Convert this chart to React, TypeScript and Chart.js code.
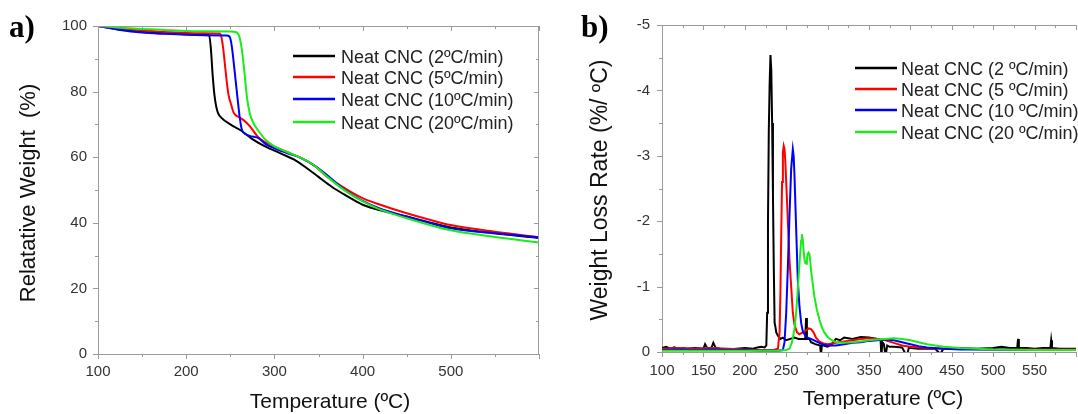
import React, { useEffect, useRef } from 'react';
import { Chart, registerables } from 'chart.js';

Chart.register(...registerables);

// ---------- Data ----------
const seriesColors = ['#000000', '#ff0000', '#0000ff', '#1aec1a'];
const legendA = ['Neat CNC (2ºC/min)', 'Neat CNC (5ºC/min)', 'Neat CNC (10ºC/min)', 'Neat CNC (20ºC/min)'];
const legendB = ['Neat CNC (2 ºC/min)', 'Neat CNC (5 ºC/min)', 'Neat CNC (10 ºC/min)', 'Neat CNC (20 ºC/min)'];

// Panel a) TGA: temperature (ºC) and relative weight (%)
const tgaT2 = [100, 125, 150, 175, 200, 215, 226, 228, 230, 232, 234, 236, 240, 250, 263, 275, 290, 300, 310, 322, 335, 350, 365, 380, 400, 420, 450, 475, 500, 550, 600];
const tgaW2 = [100, 98.9, 98.2, 97.8, 97.5, 97.3, 97.2, 93, 85, 79, 75.5, 73.5, 72, 70, 68, 65.5, 63.2, 62, 60.8, 59.3, 57, 54, 51, 48.5, 45.5, 43.8, 41.9, 40.2, 38.6, 36.8, 35.4];
const tgaT5 = [100, 125, 150, 175, 200, 220, 238, 240, 242, 244, 246, 248, 251, 254, 260, 265, 272, 282, 290, 300, 315, 330, 345, 360, 380, 400, 420, 450, 475, 500, 550, 600];
const tgaW5 = [100, 99.2, 98.6, 98.2, 97.9, 97.8, 97.7, 96.5, 93, 88, 83, 79, 76, 73.5, 72.2, 71.3, 69.5, 66, 64.5, 63.2, 61.5, 59.8, 57.5, 54, 50.5, 47.5, 45.5, 42.9, 41, 39.3, 37.3, 35.6];
const tgaT10 = [100, 125, 150, 175, 200, 220, 246, 249, 251, 253, 255, 257, 259, 261, 263, 265, 272, 282, 290, 300, 315, 330, 345, 360, 380, 400, 420, 450, 475, 500, 550, 600];
const tgaW10 = [100, 98.8, 98.0, 97.6, 97.3, 97.2, 97.1, 96.8, 95, 91, 86, 81, 76, 71.5, 68.5, 67.5, 66.5, 65.8, 64, 62.7, 61.2, 59.8, 57.5, 54.5, 50, 46.7, 44.3, 41.9, 40, 38.3, 36.8, 35.6];
const tgaT20 = [100, 125, 150, 175, 200, 225, 250, 257, 260, 263, 266, 269, 272, 276, 282, 290, 300, 315, 330, 345, 360, 380, 400, 420, 450, 475, 500, 550, 600];
const tgaW20 = [100, 99.5, 99.1, 98.8, 98.5, 98.4, 98.3, 98.1, 97, 93, 86, 78, 73.5, 70.5, 68, 65.3, 63.3, 61.5, 59.8, 57.5, 54, 49.8, 46.5, 44, 41.4, 39.4, 37.7, 35.7, 34];

// Panel b) DTG: temperature (ºC) and weight loss rate (%/ºC)
const dtgT2 = [100, 105, 110, 115, 120, 125, 130, 140, 150, 152, 155, 160, 162, 165, 170, 180, 190, 200, 210, 215, 220, 224, 226, 227, 228, 229, 230, 231, 232, 233, 234, 235, 236, 237, 238, 240, 243, 246, 250, 255, 260, 265, 270, 273, 274, 275, 278, 280, 285, 291, 292, 293, 295, 300, 305, 310, 315, 320, 330, 340, 350, 360, 364, 365, 366, 368, 370, 372, 375, 380, 390, 395, 396, 398, 400, 410, 420, 430, 436, 440, 450, 460, 480, 500, 510, 520, 529, 530, 531, 540, 550, 560, 569, 570, 571, 580, 590, 600];
const dtgV2 = [-0.06, -0.08, -0.05, -0.07, -0.04, -0.06, -0.05, -0.06, -0.05, -0.12, -0.05, -0.07, -0.14, -0.06, -0.05, -0.04, -0.05, -0.06, -0.05, -0.07, -0.08, -0.07, -0.1, -0.6, -2.0, -3.4, -4.1, -4.54, -4.3, -3.5, -2.4, -1.3, -0.45, -0.38, -0.3, -0.25, -0.2, -0.22, -0.18, -0.2, -0.22, -0.2, -0.2, -0.2, -0.52, -0.2, -0.2, -0.15, -0.12, -0.1, 0.06, -0.1, -0.1, -0.08, -0.12, -0.2, -0.18, -0.22, -0.2, -0.23, -0.22, -0.2, -0.18, 0.08, -0.15, -0.12, 0.06, -0.1, -0.08, -0.08, -0.07, 0.05, 0.05, -0.06, -0.06, -0.05, -0.05, -0.05, 0.03, -0.05, -0.05, -0.06, -0.05, -0.06, -0.08, -0.06, -0.06, -0.2, -0.06, -0.06, -0.05, -0.06, -0.06, -0.18, -0.06, -0.05, -0.05, -0.05];
const dtgT5 = [100, 120, 140, 160, 180, 200, 220, 235, 240, 242, 243, 244, 245, 246, 247, 248, 249, 250, 252, 254, 256, 258, 260, 263, 266, 270, 274, 277, 280, 283, 286, 290, 295, 300, 310, 320, 330, 340, 350, 360, 370, 380, 390, 400, 410, 420, 440, 460, 500, 550, 600];
const dtgV5 = [-0.05, -0.06, -0.05, -0.06, -0.05, -0.04, -0.03, -0.03, -0.05, -0.3, -0.9, -1.8, -2.6, -3.05, -3.15, -3.1, -2.9, -2.6, -2.0, -1.4, -1.0, -0.6, -0.42, -0.3, -0.27, -0.3, -0.33, -0.36, -0.35, -0.3, -0.22, -0.16, -0.13, -0.12, -0.14, -0.16, -0.18, -0.2, -0.21, -0.2, -0.18, -0.14, -0.1, -0.08, -0.07, -0.06, -0.05, -0.05, -0.04, -0.04, -0.04];
const dtgT10 = [100, 120, 140, 160, 180, 200, 220, 240, 246, 248, 250, 252, 254, 256, 258, 259, 260, 262, 264, 266, 268, 270, 273, 276, 280, 285, 290, 295, 300, 310, 320, 330, 340, 350, 360, 370, 380, 390, 400, 410, 420, 440, 460, 500, 550, 600];
const dtgV10 = [-0.03, -0.04, -0.03, -0.04, -0.03, -0.03, -0.02, -0.02, -0.03, -0.15, -0.6, -1.3, -2.1, -2.8, -3.1, -3.0, -2.7, -1.9, -1.1, -0.7, -0.45, -0.32, -0.25, -0.22, -0.2, -0.17, -0.14, -0.11, -0.1, -0.1, -0.12, -0.14, -0.15, -0.17, -0.18, -0.19, -0.18, -0.15, -0.12, -0.09, -0.07, -0.05, -0.04, -0.04, -0.03, -0.03];
const dtgT20 = [100, 120, 140, 160, 180, 200, 220, 240, 250, 254, 257, 260, 262, 264, 266, 268, 269, 270, 271, 272, 273, 274, 275, 276, 277, 278, 279, 280, 282, 284, 287, 290, 293, 296, 300, 305, 310, 320, 330, 340, 350, 360, 370, 380, 390, 400, 410, 420, 430, 440, 460, 480, 500, 550, 600];
const dtgV20 = [-0.02, -0.02, -0.02, -0.02, -0.02, -0.02, -0.02, -0.02, -0.03, -0.05, -0.15, -0.35, -0.6, -0.95, -1.35, -1.7, -1.8, -1.72, -1.55, -1.42, -1.36, -1.35, -1.42, -1.5, -1.52, -1.5, -1.4, -1.25, -1.05, -0.85, -0.65, -0.5, -0.38, -0.3, -0.23, -0.18, -0.15, -0.14, -0.15, -0.16, -0.18, -0.19, -0.2, -0.21, -0.2, -0.18, -0.15, -0.12, -0.1, -0.08, -0.06, -0.05, -0.04, -0.03, -0.03];

const tgaSeries = [[tgaT2, tgaW2], [tgaT5, tgaW5], [tgaT10, tgaW10], [tgaT20, tgaW20]];
const dtgSeries = [[dtgT2, dtgV2], [dtgT5, dtgV5], [dtgT10, dtgV10], [dtgT20, dtgV20]];

// ---------- Helpers ----------
const SANS = '"Liberation Sans", Arial, sans-serif';
const SERIF = '"Liberation Serif", "Times New Roman", serif';
const AXIS = '#9a9a9a';

function toPoints(xs: number[], ys: number[]) {
  return xs.map((x, i) => ({ x, y: ys[i] }));
}

type Decor = {
  panel: string; panelX: number; panelY: number;
  yTitle: string; yTitleX: number; yTitleY: number; yTitleSize: number;
  xTitle: string; xTitleX: number; xTitleY: number;
  legend: string[]; legX0: number; legX1: number; legTextX: number; legRows: number[];
  xMinorStep: number; yMinorStep: number; drawRight: boolean;
};

function decorPlugin(d: Decor) {
  return {
    id: 'decor',
    afterDraw(chart: any) {
      const ctx = chart.ctx;
      const { left, right, top, bottom } = chart.chartArea;
      const xs = chart.scales.x;
      const ys = chart.scales.y;
      ctx.save();
      ctx.strokeStyle = AXIS;
      ctx.lineWidth = 1;
      ctx.beginPath();
      ctx.moveTo(left, Math.round(top) + 0.5);
      ctx.lineTo(right, Math.round(top) + 0.5);
      if (d.drawRight) {
        ctx.moveTo(Math.round(right) - 0.5, top);
        ctx.lineTo(Math.round(right) - 0.5, bottom);
      }
      const xVals: number[] = xs.ticks.map((t: any) => t.value);
      const yVals: number[] = ys.ticks.map((t: any) => t.value);
      for (let v = xs.min; v <= xs.max + 1e-9; v += d.xMinorStep) {
        const major = xVals.some((m) => Math.abs(m - v) < 1e-6);
        const len = major ? 5 : 3;
        const px = Math.round(xs.getPixelForValue(v)) + 0.5;
        ctx.moveTo(px, bottom);
        ctx.lineTo(px, bottom + len);
        ctx.moveTo(px, top);
        ctx.lineTo(px, top + len);
      }
      for (let v = ys.min; v <= ys.max + 1e-9; v += d.yMinorStep) {
        const major = yVals.some((m) => Math.abs(m - v) < 1e-6);
        const len = major ? 5 : 3;
        const py = Math.round(ys.getPixelForValue(v)) + 0.5;
        ctx.moveTo(left, py);
        ctx.lineTo(left - len, py);
        if (d.drawRight) {
          ctx.moveTo(right, py);
          ctx.lineTo(right - len, py);
        }
      }
      ctx.stroke();

      // panel label
      ctx.fillStyle = '#000';
      ctx.font = `bold 31px ${SERIF}`;
      ctx.textAlign = 'left';
      ctx.textBaseline = 'alphabetic';
      ctx.fillText(d.panel, d.panelX, d.panelY);

      // axis titles
      ctx.fillStyle = '#111';
      ctx.font = `21px ${SANS}`;
      ctx.textAlign = 'center';
      ctx.fillText(d.xTitle, d.xTitleX, d.xTitleY);
      ctx.save();
      ctx.translate(d.yTitleX, d.yTitleY);
      ctx.rotate(-Math.PI / 2);
      ctx.font = `${d.yTitleSize}px ${SANS}`;
      ctx.fillText(d.yTitle, 0, 0);
      ctx.restore();

      // legend
      ctx.font = `18px ${SANS}`;
      ctx.textAlign = 'left';
      d.legend.forEach((label, i) => {
        const y = d.legRows[i];
        ctx.strokeStyle = seriesColors[i];
        ctx.lineWidth = 2.5;
        ctx.beginPath();
        ctx.moveTo(d.legX0, y);
        ctx.lineTo(d.legX1, y);
        ctx.stroke();
        ctx.fillStyle = '#222';
        ctx.fillText(label, d.legTextX, y + 6.5);
      });
      ctx.restore();
    },
  };
}

function buildConfig(
  series: number[][][],
  opts: {
    yMin: number; yMax: number; yStep: number; reverse: boolean; xStep: number;
    yWidth: number; xHeight: number; padTop: number; padRight: number;
    yPad: number; xPad: number; tension: boolean;
  },
  decor: Decor
): any {
  const orders = [3, 2, 1, 0];
  return {
    type: 'line',
    data: {
      datasets: series.map(([xs, ys], i) => ({
        data: toPoints(xs, ys),
        borderColor: seriesColors[i],
        backgroundColor: seriesColors[i],
        borderWidth: 2,
        pointRadius: 0,
        fill: false,
        order: orders[i],
        cubicInterpolationMode: opts.tension ? 'monotone' : 'default',
        tension: 0,
      })),
    },
    options: {
      responsive: false,
      animation: false,
      events: [],
      layout: { padding: { top: opts.padTop, right: opts.padRight, left: 0, bottom: 0 } },
      plugins: { legend: { display: false }, tooltip: { enabled: false }, title: { display: false } },
      scales: {
        x: {
          type: 'linear',
          min: 100,
          max: 600,
          afterFit: (s: any) => { s.height = opts.xHeight; },
          grid: { display: false, drawTicks: false },
          border: { display: true, color: AXIS, width: 1 },
          ticks: {
            stepSize: opts.xStep,
            padding: opts.xPad,
            color: '#333',
            font: { family: SANS, size: 15 },
            maxRotation: 0,
            autoSkip: false,
            callback: (v: number) => (v >= 600 ? '' : String(v)),
          },
        },
        y: {
          type: 'linear',
          min: opts.yMin,
          max: opts.yMax,
          reverse: opts.reverse,
          afterFit: (s: any) => { s.width = opts.yWidth; },
          grid: { display: false, drawTicks: false },
          border: { display: true, color: AXIS, width: 1 },
          ticks: {
            stepSize: opts.yStep,
            padding: opts.yPad,
            color: '#333',
            font: { family: SANS, size: 15 },
            callback: (v: number) => String(v),
          },
        },
      },
    },
    plugins: [decorPlugin(decor)],
  };
}

function Panel(props: { left: number; width: number; config: any }) {
  const ref = useRef<HTMLCanvasElement | null>(null);
  useEffect(() => {
    if (!ref.current) return;
    const chart = new Chart(ref.current, props.config);
    return () => chart.destroy();
  }, []);
  return (
    <canvas
      ref={ref}
      width={props.width}
      height={414}
      style={{ position: 'absolute', left: props.left, top: 0, width: props.width, height: 414 }}
    />
  );
}

export default function App() {
  const configA = buildConfig(
    tgaSeries,
    { yMin: 0, yMax: 100, yStep: 20, reverse: false, xStep: 100, yWidth: 98, xHeight: 60, padTop: 26, padRight: 5, yPad: 11, xPad: 9, tension: true },
    {
      panel: 'a)', panelX: 9, panelY: 37,
      yTitle: 'Relatative Weight  (%)', yTitleX: 35, yTitleY: 193, yTitleSize: 22,
      xTitle: 'Temperature (ºC)', xTitleX: 330, xTitleY: 408,
      legend: legendA, legX0: 293, legX1: 335, legTextX: 341, legRows: [56, 77, 99, 122],
      xMinorStep: 50, yMinorStep: 10, drawRight: true,
    }
  );
  const configB = buildConfig(
    dtgSeries,
    { yMin: -5, yMax: 0, yStep: 1, reverse: true, xStep: 50, yWidth: 114, xHeight: 62, padTop: 25, padRight: 6, yPad: 12, xPad: 10, tension: false },
    {
      panel: 'b)', panelX: 33, panelY: 37,
      yTitle: 'Weight Loss Rate (%/ ºC)', yTitleX: 59, yTitleY: 190, yTitleSize: 23,
      xTitle: 'Temperature (ºC)', xTitleX: 335, xTitleY: 405,
      legend: legendB, legX0: 307, legX1: 349, legTextX: 353, legRows: [68, 89, 110, 132],
      xMinorStep: 25, yMinorStep: 0.5, drawRight: false,
    }
  );
  return (
    <div style={{ position: 'fixed', left: 0, top: 0, width: 1078, height: 414, overflow: 'hidden', background: '#fff' }}>
      <Panel left={0} width={548} config={configA} />
      <Panel left={548} width={538} config={configB} />
    </div>
  );
}
